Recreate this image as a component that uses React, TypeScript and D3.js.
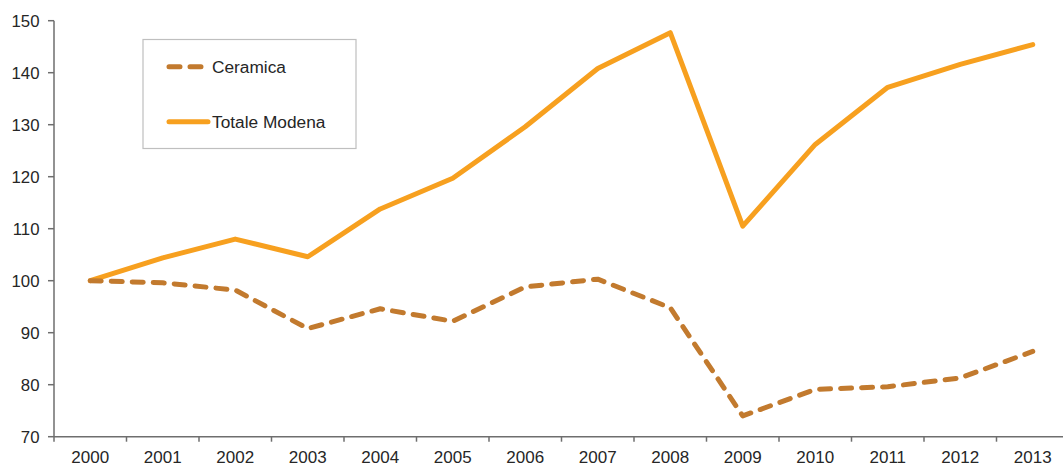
import React from "react";
import * as d3 from "d3";

const years = ["2000","2001","2002","2003","2004","2005","2006","2007","2008","2009","2010","2011","2012","2013"];
const ceramica = [100, 99.6, 98.2, 90.8, 94.6, 92.2, 98.8, 100.3, 94.8, 74.0, 79.1, 79.6, 81.3, 86.4];
const totaleModena = [100, 104.4, 108.0, 104.6, 113.8, 119.7, 129.6, 140.8, 147.7, 110.5, 126.2, 137.2, 141.6, 145.4];
const yTicks = [70, 80, 90, 100, 110, 120, 130, 140, 150];
const seriesNames = ["Ceramica", "Totale Modena"];

const W = 1063, H = 468;
const left = 54, right = 1069, top = 20.7, bottom = 436.7;
const BROWN = "#c27a2e";
const ORANGE = "#f7a01f";
const AXIS = "#6e6e6e";
const TEXT = "#262626";
const FONT = "Liberation Sans, Arial, sans-serif";

export default function App() {
  const x = d3.scaleBand<string>().domain(years).range([left, right]);
  const y = d3.scaleLinear().domain([70, 150]).range([bottom, top]);
  const cx = (i: number) => (x(years[i]) as number) + x.bandwidth() / 2;
  const line = d3.line<number>().x((_, i) => cx(i)).y((d) => y(d));
  const boundaries = years.map((yr) => x(yr) as number).concat([right]);

  return (
    <svg width={W} height={H} style={{ position: "absolute", left: 0, top: 0, background: "#fff" }} fontFamily={FONT}>
      <rect x={0} y={0} width={W} height={H} fill="#fff" />
      {/* y axis */}
      <line x1={left} x2={left} y1={top} y2={bottom} stroke={AXIS} strokeWidth={1.5} />
      {yTicks.map((t) => (
        <g key={t}>
          <line x1={left - 6} x2={left} y1={y(t)} y2={y(t)} stroke={AXIS} strokeWidth={1.5} />
          <text x={39.5} y={y(t)} dy="0.35em" textAnchor="end" fontSize={16.8} fill={TEXT}>{t}</text>
        </g>
      ))}
      {/* x axis */}
      <line x1={left} x2={right} y1={bottom} y2={bottom} stroke={AXIS} strokeWidth={1.5} />
      {boundaries.map((b, i) => (
        <line key={i} x1={b} x2={b} y1={bottom} y2={bottom + 5} stroke={AXIS} strokeWidth={1.5} />
      ))}
      {years.map((yr, i) => (
        <text key={yr} x={cx(i)} y={bottom + 26} textAnchor="middle" fontSize={17} fill={TEXT}>{yr}</text>
      ))}
      {/* series */}
      <path d={line(totaleModena) || ""} fill="none" stroke={ORANGE} strokeWidth={5} strokeLinejoin="round" strokeLinecap="round" />
      <path d={line(ceramica) || ""} fill="none" stroke={BROWN} strokeWidth={5} strokeDasharray="11,10" strokeLinejoin="round" strokeLinecap="round" />
      {/* legend */}
      <rect x={143} y={39.5} width={213} height={109} fill="#fff" stroke="#bfbfbf" strokeWidth={1.2} />
      <line x1={169} x2={208} y1={66.7} y2={66.7} stroke={BROWN} strokeWidth={5} strokeDasharray="11,10" strokeLinecap="round" />
      <text x={212} y={66.7} dy="0.35em" fontSize={17.3} fill={TEXT}>{seriesNames[0]}</text>
      <line x1={169} x2={208} y1={121.7} y2={121.7} stroke={ORANGE} strokeWidth={5} strokeLinecap="round" />
      <text x={212} y={121.7} dy="0.35em" fontSize={17.3} fill={TEXT}>{seriesNames[1]}</text>
    </svg>
  );
}
